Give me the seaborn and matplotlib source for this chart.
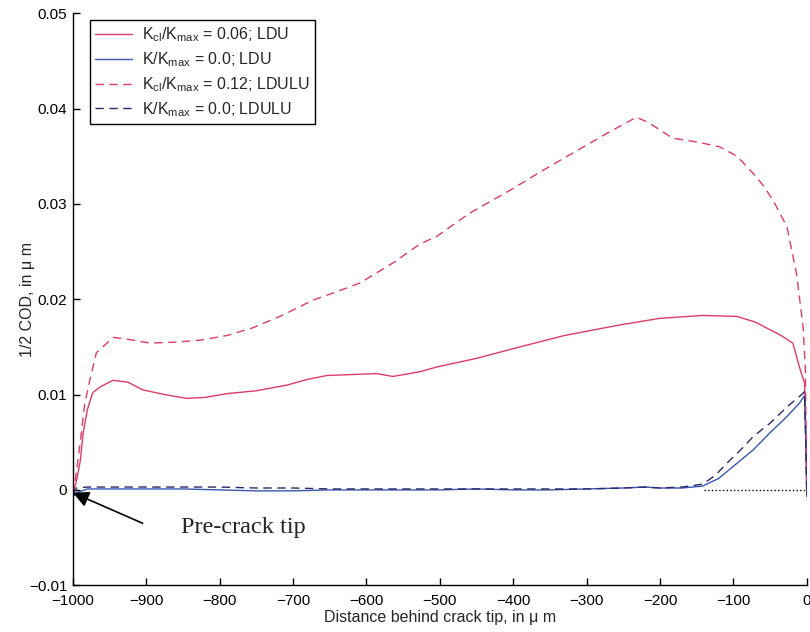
import matplotlib
matplotlib.use("Agg")
import matplotlib.pyplot as plt
import seaborn as sns
import pandas as pd
from matplotlib.ticker import FixedLocator, FuncFormatter

# ---- data ----
x_red_solid = [-1000, -995, -990, -986, -980, -973, -963, -945, -925, -905, -875, -845, -820,
               -790, -750, -708, -680, -654, -620, -586, -564, -527, -504, -450, -391, -330,
               -255, -200, -142, -95, -70, -50, -35, -19, -10, -3, -1, 0]
y_red_solid = [-0.0005, 0.001, 0.003, 0.006, 0.0085, 0.0102, 0.0108, 0.0115, 0.0113, 0.0105,
               0.0100, 0.0096, 0.0097, 0.0101, 0.0104, 0.0110, 0.0116, 0.0120, 0.0121, 0.0122,
               0.0119, 0.0124, 0.0129, 0.0138, 0.0150, 0.0162, 0.0173, 0.0180, 0.0183, 0.0182,
               0.0176, 0.0168, 0.0162, 0.0154, 0.0129, 0.0112, 0.0050, 0.0]

x_red_dash = [-1000, -995, -990, -984, -977, -968, -955, -945, -925, -895, -860, -827, -790,
              -755, -715, -673, -640, -609, -564, -527, -504, -460, -405, -360, -313, -270,
              -232, -215, -183, -150, -119, -95, -73, -60, -46, -27, -14, -5, -2, 0]
y_red_dash = [-0.0005, 0.002, 0.005, 0.009, 0.0115, 0.0144, 0.0153, 0.0160, 0.0158, 0.0154,
              0.0155, 0.0157, 0.0162, 0.0170, 0.0183, 0.0199, 0.0208, 0.0217, 0.0238, 0.0258,
              0.0266, 0.0290, 0.0314, 0.0335, 0.0356, 0.0375, 0.0391, 0.0385, 0.0369, 0.0365,
              0.0360, 0.0350, 0.0332, 0.0320, 0.0304, 0.0276, 0.0227, 0.0171, 0.0129, 0.0]

x_blue_solid = [-1000, -995, -980, -950, -900, -850, -800, -750, -700, -650, -600, -550, -500,
                -450, -400, -350, -300, -250, -220, -200, -170, -142, -120, -95, -73, -50, -27,
                -10, -3, -1, 0]
y_blue_solid = [-0.0007, -0.0003, 0.0001, 0.0001, 0.0001, 0.0001, 0.0, -0.0001, -0.0001, 0.0,
                0.0, 0.0, 0.0, 0.0001, 0.0, 0.0, 0.0001, 0.0002, 0.0003, 0.0002, 0.0002, 0.0004,
                0.0012, 0.0028, 0.0042, 0.0060, 0.0077, 0.0091, 0.0099, 0.0040, -0.0007]

x_dark_dash = [-1000, -995, -980, -950, -900, -850, -800, -750, -700, -650, -600, -550, -500,
               -450, -400, -350, -300, -250, -220, -200, -170, -142, -125, -105, -90, -73, -50,
               -27, -10, -3, -1, 0]
y_dark_dash = [-0.0005, 0.0002, 0.0003, 0.0003, 0.0003, 0.0003, 0.0003, 0.0002, 0.0002, 0.0001,
               0.0001, 0.0001, 0.0001, 0.0001, 0.0001, 0.0001, 0.0001, 0.0002, 0.0003, 0.0002,
               0.0003, 0.0006, 0.0015, 0.0031, 0.0042, 0.0056, 0.0070, 0.0087, 0.0098, 0.0103,
               0.0040, -0.0003]

x_dotted = [-140, 0]
y_dotted = [0.0, 0.0]

labels = [r"K$_{\rm cl}$/K$_{\rm max}$ = 0.06; LDU",
          r"K/K$_{\rm max}$ = 0.0; LDU",
          r"K$_{\rm cl}$/K$_{\rm max}$ = 0.12; LDULU",
          r"K/K$_{\rm max}$ = 0.0; LDULU"]

x_ticks = [-1000, -900, -800, -700, -600, -500, -400, -300, -200, -100, 0]
y_ticks = [-0.01, 0, 0.01, 0.02, 0.03, 0.04, 0.05]

# ---- styling ----
sns.set_style("white")
plt.rcParams["font.family"] = ["Liberation Sans", "DejaVu Sans"]
plt.rcParams["mathtext.fontset"] = "custom"
plt.rcParams["mathtext.rm"] = "Liberation Sans"
plt.rcParams["mathtext.it"] = "Liberation Sans:italic"

RED = "#dc3c66"
BLUE = "#3a56b4"
DARK = "#2a2a66"

fig = plt.figure(figsize=(8.10, 6.32), dpi=100)
ax = fig.add_axes([0.090, 0.074, 0.906, 0.905])

series = [
    (x_red_solid, y_red_solid, labels[0], RED, "-"),
    (x_blue_solid, y_blue_solid, labels[1], BLUE, "-"),
    (x_red_dash, y_red_dash, labels[2], RED, "--"),
    (x_dark_dash, y_dark_dash, labels[3], DARK, "--"),
]
handles = []
for xs, ys, lab, col, ls in series:
    df = pd.DataFrame({"x": xs, "y": ys})
    sns.lineplot(data=df, x="x", y="y", ax=ax, color=col, linewidth=1.0,
                 sort=False, estimator=None, label=lab)
    ln = ax.get_lines()[-1]
    if ls == "--":
        ln.set_dashes((6, 4))
    handles.append(ln)

sns.lineplot(data=pd.DataFrame({"x": x_dotted, "y": y_dotted}), x="x", y="y", ax=ax,
             color="black", linewidth=1.0, linestyle=":", estimator=None)

ax.set_xlim(-1000, 0)
ax.set_ylim(-0.01, 0.05)
ax.xaxis.set_major_locator(FixedLocator(x_ticks))
ax.yaxis.set_major_locator(FixedLocator(y_ticks))
fmt = FuncFormatter(lambda v, p: f"{v:g}".replace("-", "\u2212"))
ax.xaxis.set_major_formatter(fmt)
ax.yaxis.set_major_formatter(fmt)
ax.tick_params(direction="in", length=5, width=1, labelsize=11, colors="black",
               left=True, bottom=True)
ax.tick_params(axis="y", pad=4)
ax.tick_params(axis="x", pad=6)

for s in ["top", "right"]:
    ax.spines[s].set_visible(False)
for s in ["left", "bottom"]:
    ax.spines[s].set_color("black")
    ax.spines[s].set_linewidth(1.0)

ax.set_xlabel("Distance behind crack tip, in \u03bc m", fontsize=11.5, labelpad=2)
ax.set_ylabel("1/2 COD, in \u03bc m", fontsize=11.5)
ax.yaxis.set_label_coords(-0.052, 0.5)

leg = ax.legend(handles=handles, labels=labels, loc="upper left",
                bbox_to_anchor=(0.023, 0.988), fontsize=11.5, frameon=True,
                fancybox=False, edgecolor="black", framealpha=1,
                handlelength=2.3, labelspacing=0.38, borderpad=0.35, handletextpad=0.6,
                borderaxespad=0)
leg.get_frame().set_linewidth(1.0)

ax.text(-853, -0.0039, "Pre-crack tip", fontsize=17.5,
        family=["Liberation Serif", "DejaVu Serif"], va="center", ha="left")
ax.annotate("", xy=(-1000, -0.0003), xytext=(-905, -0.0035),
            arrowprops=dict(arrowstyle="-|>", color="black", lw=1.2,
                            mutation_scale=24, shrinkA=0, shrinkB=0))

fig.savefig("out.png", dpi=100)
